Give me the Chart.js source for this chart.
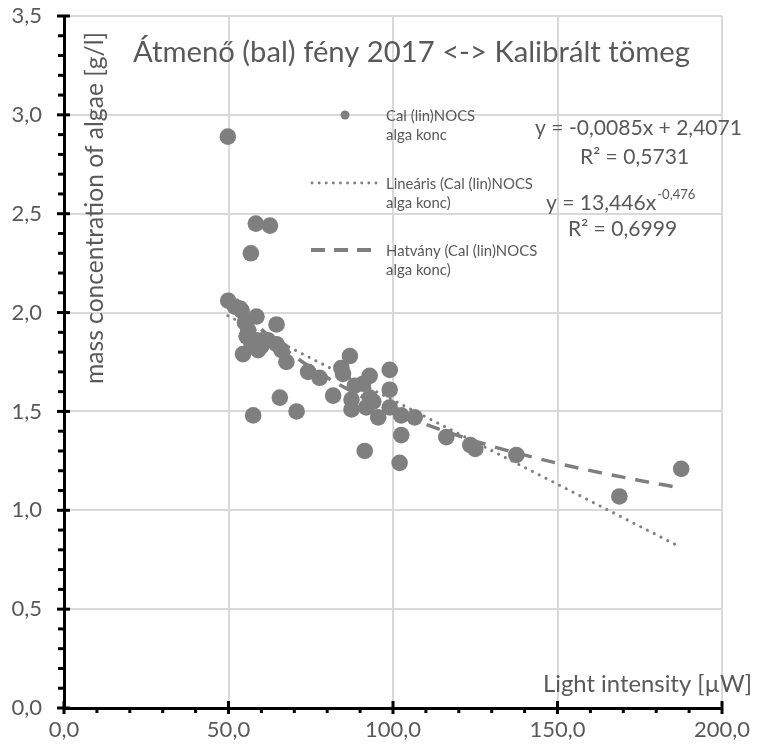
<!DOCTYPE html>
<html>
<head>
<meta charset="utf-8">
<script src="https://cdn.jsdelivr.net/npm/chart.js@4.4.1/dist/chart.umd.min.js"></script>
<style>
html,body{margin:0;padding:0;background:#fff;}
#wrap{width:757px;height:752px;}
</style>
</head>
<body>
<div id="wrap"><canvas id="c" width="757" height="752"></canvas></div>
<script>
// ---- data ----
const lightX = [49.8,58.3,62.6,56.8,49.9,52.0,54.0,58.5,64.6,55.0,55.5,57.0,58.5,62.0,64.6,54.4,59.0,66.1,67.6,74.2,77.7,65.6,70.7,57.5,
  86.9,84.3,84.8,92.9,99.0,81.8,88.4,90.9,99.0,87.4,92.9,94.0,87.4,91.9,99.0,95.5,102.5,106.6,102.5,91.4,102.0,116.2,123.5,125.0,137.5,168.8,187.6,
  56.0,60.0,53.5];
const massY = [2.89,2.45,2.44,2.30,2.06,2.03,2.01,1.98,1.94,1.95,1.88,1.84,1.86,1.86,1.84,1.79,1.81,1.81,1.75,1.70,1.67,1.57,1.50,1.48,
  1.78,1.72,1.69,1.68,1.71,1.58,1.63,1.64,1.61,1.56,1.57,1.55,1.51,1.52,1.52,1.47,1.48,1.47,1.38,1.30,1.24,1.37,1.33,1.31,1.28,1.07,1.21,
  1.91,1.83,2.02];
// linear trendline (endpoints)
const linX = [49.8, 187.6];
const linY = [1.984, 0.812];
// power trendline
const powX = [49.8, 60, 75, 100, 125, 150, 175, 187.6];
const powY = [2.09, 1.915, 1.722, 1.502, 1.350, 1.238, 1.151, 1.113];
const yTicks = [0,0.5,1,1.5,2,2.5,3,3.5];
const xTicks = [0,50,100,150,200];

const TXT = '#595959';
const PT = '#7f7f7f';
const FONT = 'Lato, "Open Sans", sans-serif';

const scatterData = lightX.map((x,i)=>({x:x,y:massY[i]}));
const linData = linX.map((x,i)=>({x:x,y:linY[i]}));
const powData = powX.map((x,i)=>({x:x,y:powY[i]}));

const fmt = v => v.toFixed(1).replace('.', ',');

// set font so that text spans target width
function fitFont(ctx, text, width){
  ctx.font = '20px ' + FONT;
  const m = ctx.measureText(text).width;
  const s = 20*width/m;
  ctx.font = s.toFixed(2) + 'px ' + FONT;
  return s;
}

const deco = {
  id:'deco',
  afterDraw(chart){
    const ctx = chart.ctx;
    const xs = chart.scales.x, ys = chart.scales.y;
    const x0 = xs.getPixelForValue(0), y0 = ys.getPixelForValue(0);
    ctx.save();
    // ticks
    ctx.strokeStyle = '#000'; ctx.lineWidth = 3; ctx.lineCap='butt';
    for(let i=0;i<=35;i++){
      const v = i/10, p = ys.getPixelForValue(v);
      ctx.beginPath();
      if(i%5===0){ctx.moveTo(x0-7,p);ctx.lineTo(x0+6,p);} else {ctx.moveTo(x0-6,p);ctx.lineTo(x0,p);}
      ctx.stroke();
    }
    for(let i=0;i<=20;i++){
      const v = i*10, p = xs.getPixelForValue(v);
      ctx.beginPath();
      if(i%5===0){ctx.moveTo(p,y0-7);ctx.lineTo(p,y0+6);} else {ctx.moveTo(p,y0);ctx.lineTo(p,y0+5);}
      ctx.stroke();
    }
    // title
    ctx.fillStyle = TXT;
    ctx.textBaseline = 'middle';
    ctx.textAlign = 'left';
    fitFont(ctx, 'Átmenő (bal) fény 2017 <-> Kalibrált tömeg', 557);
    ctx.fillText('Átmenő (bal) fény 2017 <-> Kalibrált tömeg', 133, 53);
    // axis titles
    fitFont(ctx, 'Light intensity [µW]', 209);
    ctx.fillText('Light intensity [µW]', 543, 684);
    ctx.save();
    ctx.translate(95, 208);
    ctx.rotate(-Math.PI/2);
    ctx.textAlign = 'center';
    fitFont(ctx, 'mass concentration of algae [g/l]', 352);
    ctx.fillText('mass concentration of algae [g/l]', 0, 0);
    ctx.restore();
    // legend
    ctx.textAlign = 'left';
    ctx.fillStyle = PT;
    ctx.beginPath(); ctx.arc(345,115,4.5,0,Math.PI*2); ctx.fill();
    ctx.fillStyle = TXT;
    const ls = fitFont(ctx, 'Lineáris (Cal (lin)NOCS', 147);
    ctx.fillText('Cal (lin)NOCS', 386, 116);
    ctx.fillText('alga konc', 386, 135);
    ctx.strokeStyle = PT; ctx.lineWidth = 2.8; ctx.lineCap='round';
    ctx.setLineDash([0.1,7]);
    ctx.beginPath(); ctx.moveTo(312,183); ctx.lineTo(377,183); ctx.stroke();
    ctx.lineCap='butt';
    ctx.setLineDash([14,9]); ctx.lineWidth = 3.8;
    ctx.beginPath(); ctx.moveTo(311,250); ctx.lineTo(379,250); ctx.stroke();
    ctx.setLineDash([]);
    ctx.fillText('Lineáris (Cal (lin)NOCS', 386, 184);
    ctx.fillText('alga konc)', 386, 203);
    ctx.fillText('Hatvány (Cal (lin)NOCS', 386, 251);
    ctx.fillText('alga konc)', 386, 270);
    // equations
    fitFont(ctx, 'y = -0,0085x + 2,4071', 207);
    const es = parseFloat(ctx.font);
    ctx.textAlign = 'right';
    ctx.fillText('y = -0,0085x + 2,4071', 742, 128);
    ctx.textAlign = 'left';
    ctx.fillText('R² = 0,5731', 580, 157);
    const base = 'y = 13,446x';
    ctx.fillText(base, 546, 203);
    const w = ctx.measureText(base).width;
    ctx.font = (es*0.62).toFixed(1) + 'px ' + FONT;
    ctx.fillText('-0,476', 546+w+1, 195);
    ctx.font = es.toFixed(2) + 'px ' + FONT;
    ctx.fillText('R² = 0,6999', 568, 229);
    ctx.restore();
  }
};

new Chart(document.getElementById('c'), {
  type:'scatter',
  data:{
    datasets:[
      {label:'Lineáris (Cal (lin)NOCS alga konc)', type:'line', data:linData, borderColor:PT, borderWidth:3,
       borderDash:[0.1,7.5], borderCapStyle:'round', pointRadius:0, fill:false, order:1},
      {label:'Hatvány (Cal (lin)NOCS alga konc)', type:'line', data:powData, borderColor:PT, borderWidth:3.5,
       borderDash:[14,10], pointRadius:0, fill:false, cubicInterpolationMode:'monotone', order:1},
      {label:'Cal (lin)NOCS alga konc', data:scatterData, backgroundColor:PT, borderColor:PT, pointRadius:8.3, pointBorderWidth:0, order:2}
    ]
  },
  options:{
    responsive:false, animation:false,
    layout:{padding:{top:16,right:35,left:0,bottom:0}},
    plugins:{legend:{display:false}, title:{display:false}, tooltip:{enabled:false}},
    scales:{
      x:{type:'linear', min:0, max:200,
         afterBuildTicks(s){ s.ticks = xTicks.map(v=>({value:v})); },
         afterFit(s){ s.height = 44; s.paddingLeft = 0; s.paddingRight = 0; },
         ticks:{callback:v=>fmt(v), color:TXT, font:{size:22, family:FONT}, padding:9, maxRotation:0},
         grid:{color:'#d9d9d9', lineWidth:2, drawTicks:false},
         border:{display:true, color:'#000', width:3}},
      y:{type:'linear', min:0, max:3.5,
         afterBuildTicks(s){ s.ticks = yTicks.map(v=>({value:v})); },
         afterFit(s){ s.width = 64; s.paddingTop = 0; s.paddingBottom = 0; },
         ticks:{callback:v=>fmt(v), color:TXT, font:{size:22, family:FONT}, padding:22},
         grid:{color:'#d9d9d9', lineWidth:2, drawTicks:false},
         border:{display:true, color:'#000', width:3}}
    }
  },
  plugins:[deco]
});
</script>
</body>
</html>
